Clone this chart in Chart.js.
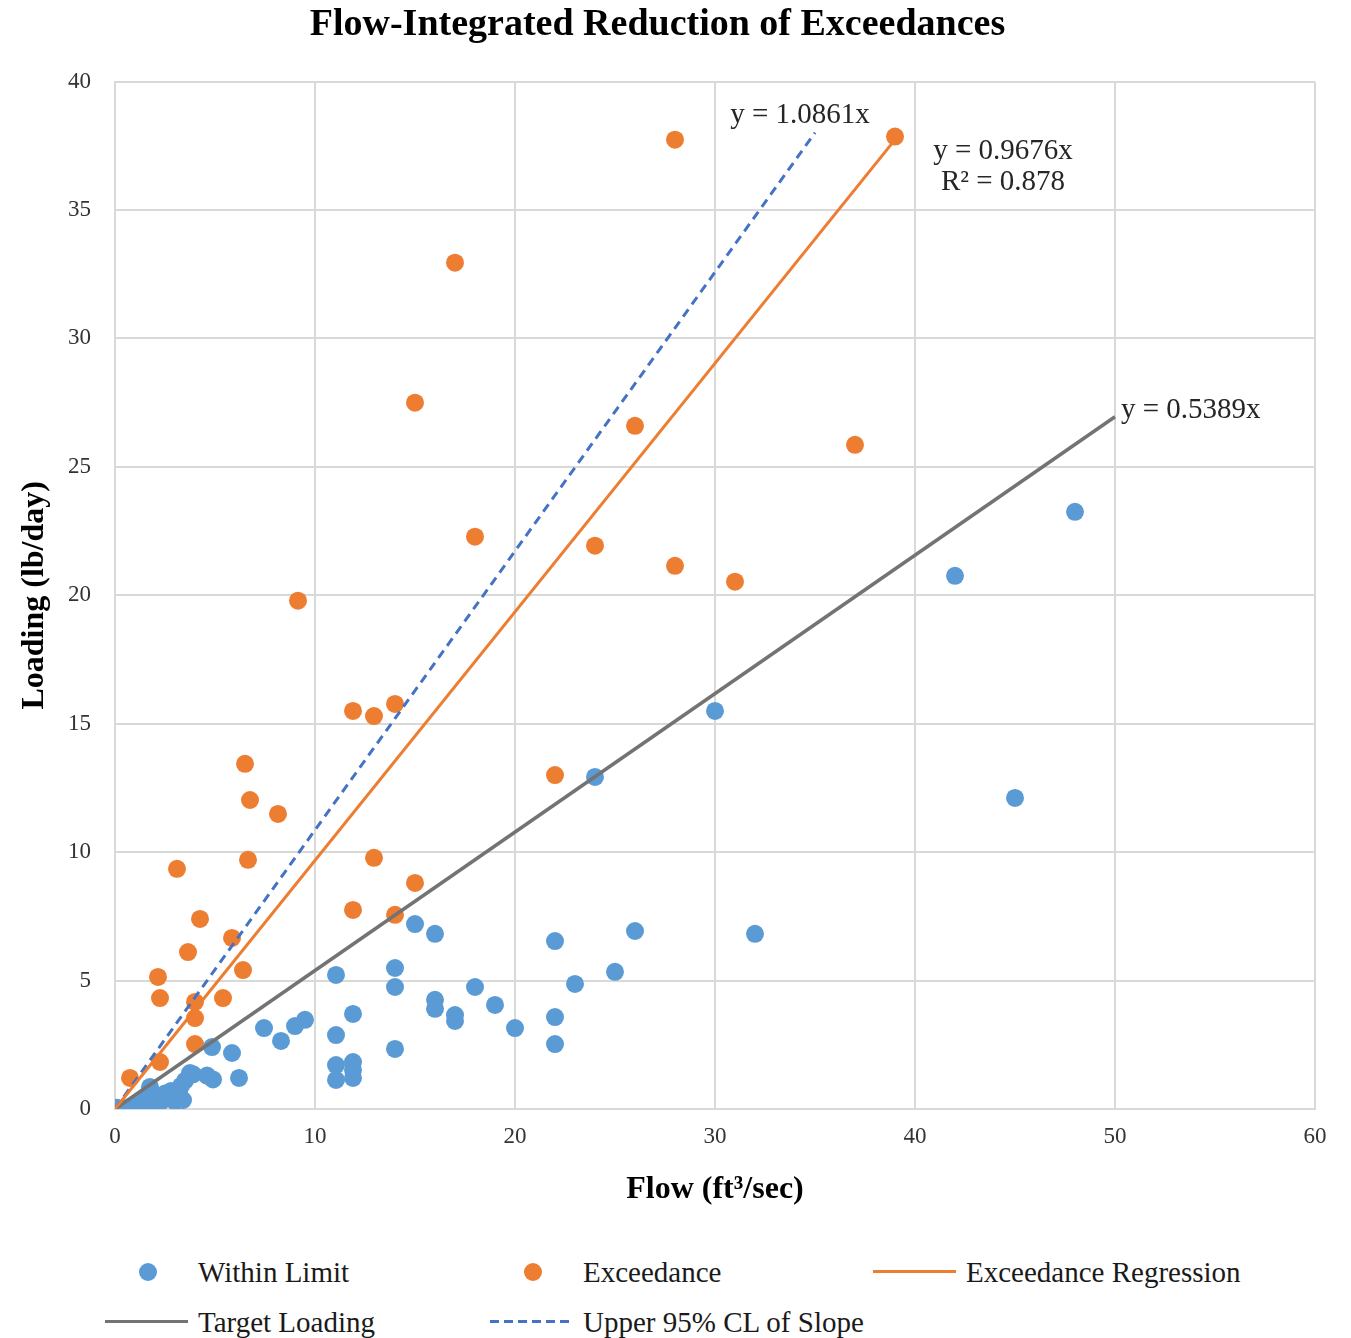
<!DOCTYPE html>
<html>
<head>
<meta charset="utf-8">
<script src="https://cdn.jsdelivr.net/npm/chart.js@4.4.0/dist/chart.umd.min.js"></script>
<style>
  html, body { margin: 0; padding: 0; background: #fff; }
  #wrap { position: relative; width: 1351px; height: 1338px; }
  #chart-box { position: absolute; left: 0; top: 0; width: 1351px; height: 1230px; }
  #legend {
    position: absolute; left: 105px; top: 1247px;
    display: grid; grid-template-columns: 385px 383px 384px; grid-auto-rows: 50px;
    font-family: "Liberation Serif", "Times New Roman", serif; font-size: 29px; color: #1a1a1a;
  }
  .item { display: flex; align-items: center; }
  .mk { width: 93px; height: 20px; position: relative; flex: none; }
  .dot { position: absolute; left: 34px; top: 1px; width: 18px; height: 18px; border-radius: 50%; }
  .ln { position: absolute; left: 0; top: 8px; width: 83px; height: 3px; }
</style>
</head>
<body>
<div id="wrap">
  <div id="chart-box"><canvas id="c"></canvas></div>
  <div id="legend"></div>
</div>
<script>
// ---- data ----
const withinX = [48, 42, 30, 24, 45, 15, 16, 26, 32, 22, 25, 14, 11.05, 23, 18, 14, 16, 16, 19, 17, 17, 22, 11.9, 20,
  7.45, 9, 9.5, 8.3, 11.05, 22, 14, 4.85, 5.85, 11.05, 11.9, 11.9, 11.05, 11.9, 6.2, 4.6, 4.9,
  0.1, 0.5, 0.8, 1.2, 1.5, 1.75, 1.9, 2.2, 2.3, 2.6, 2.8, 3.0, 3.2, 3.3, 3.5, 3.75, 3.0, 2.0, 1.0, 3.4, 1.8, 2.5, 3.9];
const withinY = [23.25, 20.76, 15.5, 12.93, 12.11, 7.2, 6.82, 6.93, 6.82, 6.54, 5.34, 5.49, 5.22, 4.87, 4.75, 4.75, 4.25, 3.9, 4.05, 3.66, 3.43, 3.58, 3.7, 3.15,
  3.15, 3.23, 3.47, 2.65, 2.88, 2.53, 2.34, 2.41, 2.18, 1.71, 1.83, 1.52, 1.13, 1.21, 1.21, 1.3, 1.15,
  0.05, 0.02, 0.1, 0.25, 0.35, 0.86, 0.6, 0.2, 0.5, 0.4, 0.7, 0.3, 0.6, 0.9, 1.1, 1.4, 0.5, 0.15, 0.1, 0.35, 0.3, 0.6, 1.35];

const exceedX = [28, 39, 17, 15, 26, 37, 18, 24, 28, 31, 9.15, 11.9, 12.95, 14, 6.5, 6.75, 8.15, 3.1, 6.65, 12.95, 15, 11.9, 14,
  4.25, 3.65, 5.85, 2.15, 6.4, 2.25, 5.4, 4, 4, 4, 2.25, 0.75, 0.05, 22];
const exceedY = [37.74, 37.86, 32.95, 27.5, 26.6, 25.86, 22.28, 21.93, 21.15, 20.53, 19.79, 15.5, 15.3, 15.77, 13.44, 12.03, 11.49, 9.35, 9.7, 9.78, 8.8, 7.75, 7.56,
  7.4, 6.11, 6.66, 5.14, 5.41, 4.32, 4.32, 4.17, 3.54, 2.53, 1.83, 1.21, 0.04, 13.0];

// trend line end points
const regX = [0, 39], regY = [0, 37.74];       // y = 0.9676x
const targetX = [0, 50], targetY = [0, 26.95]; // y = 0.5389x
const upperX = [0, 35], upperY = [0, 38.01];   // y = 1.0861x

const xTicks = [0, 10, 20, 30, 40, 50, 60];
const yTicks = [0, 5, 10, 15, 20, 25, 30, 35, 40];

// equation labels: [text, x, y, align]
const eqLabels = [
  ['y = 1.0861x', 34.25, 38.7, 'center'],
  ['y = 0.9676x', 44.4, 37.27, 'center'],
  ['R\u00b2 = 0.878', 44.4, 36.07, 'center'],
  ['y = 0.5389x', 50.3, 27.2, 'left'],
];

const C_BLUE = '#5B9BD5', C_ORANGE = '#ED7D31', C_GRAY = '#737373', C_DASH = '#4472C4';
const SERIF = '"Liberation Serif", "Times New Roman", serif';

const pts = (xs, ys) => xs.map((x, i) => ({ x, y: ys[i] }));

const eqPlugin = {
  id: 'eq',
  afterDatasetsDraw(chart) {
    const { ctx, scales: { x, y } } = chart;
    ctx.save();
    ctx.font = '29px ' + SERIF;
    ctx.fillStyle = '#262626';
    ctx.textBaseline = 'middle';
    eqLabels.forEach(([t, lx, ly, al]) => {
      ctx.textAlign = al;
      ctx.fillText(t, x.getPixelForValue(lx), y.getPixelForValue(ly));
    });
    ctx.restore();
  }
};

new Chart(document.getElementById('c'), {
  type: 'scatter',
  data: {
    datasets: [
      { label: 'Within Limit', data: pts(withinX, withinY), backgroundColor: C_BLUE, borderWidth: 0, pointRadius: 9, order: 2 },
      { label: 'Exceedance', data: pts(exceedX, exceedY), backgroundColor: C_ORANGE, borderWidth: 0, pointRadius: 9, order: 2 },
      { label: 'Exceedance Regression', type: 'line', data: pts(regX, regY), borderColor: C_ORANGE, borderWidth: 3, pointRadius: 0, order: 1 },
      { label: 'Target Loading', type: 'line', data: pts(targetX, targetY), borderColor: C_GRAY, borderWidth: 3.5, pointRadius: 0, order: 1 },
      { label: 'Upper 95% CL of Slope', type: 'line', data: pts(upperX, upperY), borderColor: C_DASH, borderWidth: 3, borderDash: [9, 6], pointRadius: 0, order: 1 },
    ]
  },
  options: {
    responsive: true,
    maintainAspectRatio: false,
    animation: false,
    layout: { padding: { left: 0, right: 36, top: 0, bottom: 0 } },
    plugins: {
      legend: { display: false },
      tooltip: { enabled: false },
      title: {
        display: true,
        text: 'Flow-Integrated Reduction of Exceedances',
        color: '#000',
        font: { family: SERIF, size: 38, weight: 'bold' },
        padding: { top: 2, bottom: 34 }
      }
    },
    scales: {
      x: {
        type: 'linear', min: 0, max: 60,
        afterBuildTicks: s => { s.ticks = xTicks.map(v => ({ value: v })); },
        afterFit: s => { s.height = 121; },
        grid: { color: '#d9d9d9', lineWidth: 2, drawTicks: false },
        border: { color: '#d9d9d9', width: 2 },
        ticks: { color: '#333', padding: 14, font: { family: SERIF, size: 23 } },
        title: { display: true, text: 'Flow (ft\u00b3/sec)', color: '#000',
          font: { family: SERIF, size: 32, weight: 'bold' }, padding: { top: 0, bottom: 21 } }
      },
      y: {
        type: 'linear', min: 0, max: 40,
        afterBuildTicks: s => { s.ticks = yTicks.map(v => ({ value: v })); },
        afterFit: s => { s.width = 115; },
        grid: { color: '#d9d9d9', lineWidth: 2, drawTicks: false },
        border: { color: '#d9d9d9', width: 2 },
        ticks: { color: '#333', padding: 24, font: { family: SERIF, size: 23 } },
        title: { display: true, text: 'Loading (lb/day)', color: '#000',
          font: { family: SERIF, size: 32, weight: 'bold' }, padding: { top: 16, bottom: 0 } }
      }
    }
  },
  plugins: [eqPlugin]
});

// HTML legend laid out in Excel-like columns
const legendItems = [
  { label: 'Within Limit', kind: 'dot', color: C_BLUE },
  { label: 'Exceedance', kind: 'dot', color: C_ORANGE },
  { label: 'Exceedance Regression', kind: 'line', color: C_ORANGE },
  { label: 'Target Loading', kind: 'line', color: C_GRAY },
  { label: 'Upper 95% CL of Slope', kind: 'dash', color: C_DASH },
];
const lg = document.getElementById('legend');
legendItems.forEach(it => {
  let mark;
  if (it.kind === 'dot') mark = `<span class="dot" style="background:${it.color}"></span>`;
  else if (it.kind === 'line') mark = `<span class="ln" style="background:${it.color}"></span>`;
  else mark = `<span class="ln" style="background:repeating-linear-gradient(90deg, ${it.color} 0 9px, transparent 9px 14px)"></span>`;
  lg.innerHTML += `<div class="item"><span class="mk">${mark}</span><span>${it.label}</span></div>`;
});
</script>
</body>
</html>
